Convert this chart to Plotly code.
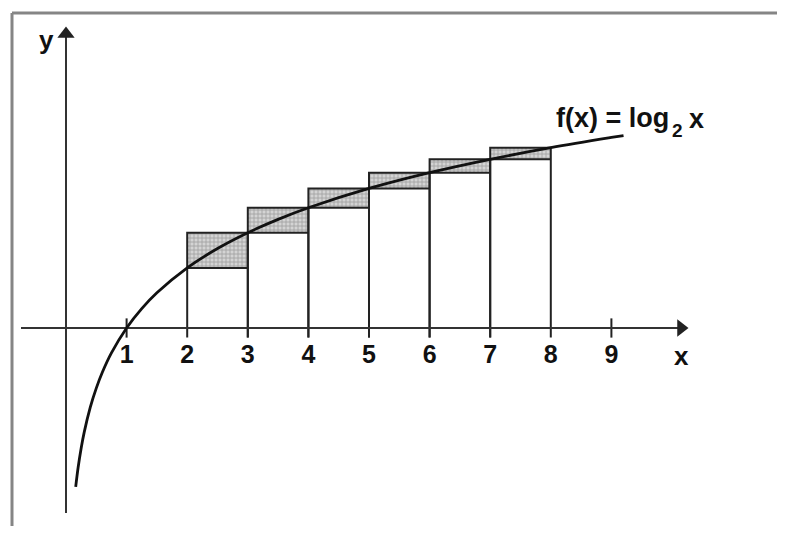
import plotly.graph_objects as go

# ---- data ----
tick_values = [1, 2, 3, 4, 5, 6, 7, 8, 9]
tick_labels = ["1", "2", "3", "4", "5", "6", "7", "8", "9"]

rect_left = [2, 3, 4, 5, 6, 7]
rect_right = [3, 4, 5, 6, 7, 8]
rect_low = [1.0, 1.585, 2.0, 2.322, 2.585, 2.807]
rect_high = [1.585, 2.0, 2.322, 2.585, 2.807, 3.0]

curve_x = [0.16, 0.2, 0.25, 0.3, 0.4, 0.5, 0.6, 0.75, 1.0, 1.25, 1.5, 2.0,
           2.5, 3.0, 3.5, 4.0, 5.0, 6.0, 7.0, 8.0, 9.0, 9.2]
curve_y = [-2.644, -2.322, -2.0, -1.737, -1.322, -1.0, -0.737, -0.415, 0.0,
           0.322, 0.585, 1.0, 1.322, 1.585, 1.807, 2.0, 2.322, 2.585, 2.807,
           3.0, 3.170, 3.202]

OFF = 8                    # page body margin in the browser
W, H = 785 - OFF, 534 - 2 * OFF   # keep page inside the window (no scrollbars)
X0PX, XS = 66.0 - OFF, 60.6      # pixel of x=0, px per unit
Y0PX, YS = 328.0 - OFF, 60.1     # pixel of y=0, px per unit
TICK = 0.16
FONT = "Liberation Sans"
INK = "#111111"


def dx(px):
    return (px - OFF - X0PX) / XS


def dy(py):
    return (Y0PX - (py - OFF)) / YS


fig = go.Figure()

# shaded strips between lower and upper sums
sx, sy = [], []
for a, b, lo, hi in zip(rect_left, rect_right, rect_low, rect_high):
    sx += [a, b, b, a, a, None]
    sy += [lo, lo, hi, hi, lo, None]
fig.add_trace(go.Scatter(
    x=sx, y=sy, mode="lines", fill="toself",
    fillcolor="#c8c8c8",
    fillpattern=dict(shape="+", size=4, solidity=0.4, fgcolor="#707070", bgcolor="#d4d4d4"),
    line=dict(width=0), hoverinfo="skip", showlegend=False))

# rectangle outlines
ox, oy = [], []
for a, b, lo, hi in zip(rect_left, rect_right, rect_low, rect_high):
    ox += [a, a, b, b, None, a, b, None]
    oy += [-TICK, hi, hi, -TICK, None, lo, lo, None]
fig.add_trace(go.Scatter(x=ox, y=oy, mode="lines",
                         line=dict(color="#222222", width=2),
                         hoverinfo="skip", showlegend=False))

# tick marks at 1 and 9
tx, ty = [], []
for t in tick_values:
    if t not in rect_left and t not in rect_right:
        tx += [t, t, None]
        ty += [-TICK, TICK, None]
fig.add_trace(go.Scatter(x=tx, y=ty, mode="lines",
                         line=dict(color="#222222", width=2),
                         hoverinfo="skip", showlegend=False))

# axes lines
x_tip, y_tip = dx(688), dy(27)
fig.add_trace(go.Scatter(x=[dx(21), x_tip - 6 / XS, None, 0, 0],
                         y=[0, 0, None, dy(513), y_tip - 6 / YS],
                         mode="lines", line=dict(color="#333333", width=2),
                         hoverinfo="skip", showlegend=False))
# arrow heads
fig.add_trace(go.Scatter(x=[x_tip - 7 / XS], y=[0], mode="markers",
                         marker=dict(symbol="triangle-right", size=15, color="#222222", line=dict(width=0)),
                         hoverinfo="skip", showlegend=False))
fig.add_trace(go.Scatter(x=[0], y=[y_tip - 7 / YS], mode="markers",
                         marker=dict(symbol="triangle-up", size=15, color="#222222", line=dict(width=0)),
                         hoverinfo="skip", showlegend=False))

# curve
fig.add_trace(go.Scatter(x=curve_x, y=curve_y, mode="lines", line_shape="spline",
                         line=dict(color=INK, width=2.8),
                         hoverinfo="skip", showlegend=False))

# tick labels
fig.add_trace(go.Scatter(x=tick_values, y=[dy(357)] * len(tick_values), mode="text",
                         text=["<b>%s</b>" % s for s in tick_labels],
                         textfont=dict(family=FONT, size=25, color=INK),
                         hoverinfo="skip", showlegend=False))

# axis names
fig.add_annotation(x=dx(681), y=dy(356), xref="x", yref="y", showarrow=False,
                   text="<b>x</b>", font=dict(family=FONT, size=26, color=INK))
fig.add_annotation(x=dx(46), y=dy(40), xref="x", yref="y", showarrow=False,
                   text="<b>y</b>", font=dict(family=FONT, size=26, color=INK))

# function label  f(x) = log_2 x
fig.add_annotation(x=dx(554), y=dy(118), xref="x", yref="y", showarrow=False,
                   xanchor="left", yanchor="middle",
                   text="<b>f(x) = log</b>", font=dict(family=FONT, size=27, color=INK))
fig.add_annotation(x=dx(677), y=dy(130), xref="x", yref="y", showarrow=False,
                   text="<b>2</b>", font=dict(family=FONT, size=19, color=INK))
fig.add_annotation(x=dx(696), y=dy(119), xref="x", yref="y", showarrow=False,
                   text="<b>x</b>", font=dict(family=FONT, size=27, color=INK))

# frame (top and left edges only)
bx = (12 - OFF) / W
by = 1 - (13 - OFF) / H
fig.add_shape(type="line", xref="paper", yref="paper", x0=bx, y0=0, x1=bx, y1=by,
              line=dict(color="#858585", width=3))
fig.add_shape(type="line", xref="paper", yref="paper", x0=bx, y0=by, x1=1, y1=by,
              line=dict(color="#858585", width=3))

fig.update_layout(
    width=W, height=H, autosize=False,
    margin=dict(l=0, r=0, t=0, b=0),
    paper_bgcolor="white", plot_bgcolor="white",
    xaxis=dict(range=[-X0PX / XS, (W - X0PX) / XS], visible=False, fixedrange=True),
    yaxis=dict(range=[(Y0PX - H) / YS, Y0PX / YS], visible=False, fixedrange=True),
    showlegend=False,
)

fig.write_html("out.html")
